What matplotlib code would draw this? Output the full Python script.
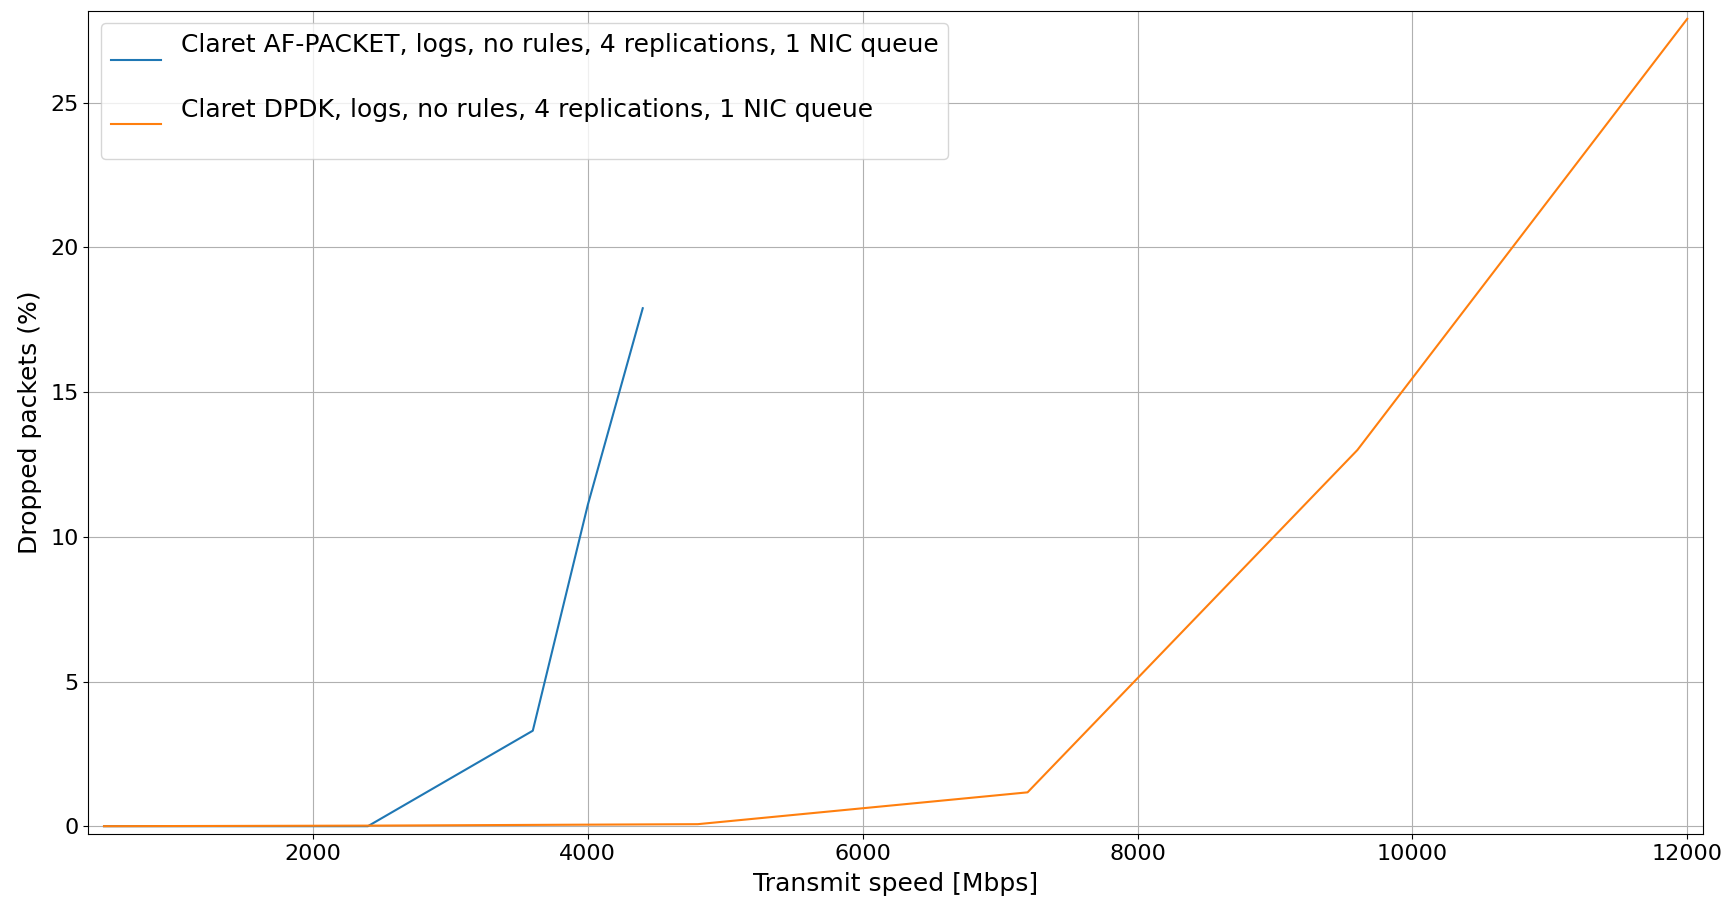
import matplotlib
matplotlib.use('Agg')
import matplotlib.pyplot as plt

# transmit speed [Mbps] and dropped packets [%]
afpacket_speed = [480, 2400, 3600, 4000, 4400]
afpacket_dropped = [0.0, 0.0, 3.3, 11.1, 17.9]

dpdk_speed = [480, 2400, 4800, 7200, 9600, 12000]
dpdk_dropped = [0.0, 0.02, 0.07, 1.17, 13.0, 27.9]

afpacket_label = 'Claret AF-PACKET, logs, no rules, 4 replications, 1 NIC queue\n'
dpdk_label = 'Claret DPDK, logs, no rules, 4 replications, 1 NIC queue\n'

plt.rcParams['font.size'] = 16
plt.rcParams['axes.xmargin'] = 0.01
plt.rcParams['axes.ymargin'] = 0.01

fig = plt.figure(figsize=(17.29, 8.99), dpi=100)
plt.subplots_adjust(left=0.051, right=0.985, top=0.988, bottom=0.072)

plt.plot(afpacket_speed, afpacket_dropped, label=afpacket_label)
plt.plot(dpdk_speed, dpdk_dropped, label=dpdk_label)
plt.xlabel('Transmit speed [Mbps]', fontsize=18, labelpad=6)
plt.ylabel('Dropped packets (%)', fontsize=18, labelpad=6)
plt.grid(True)
plt.legend(loc='upper left', fontsize=18)
plt.savefig('out.png')
